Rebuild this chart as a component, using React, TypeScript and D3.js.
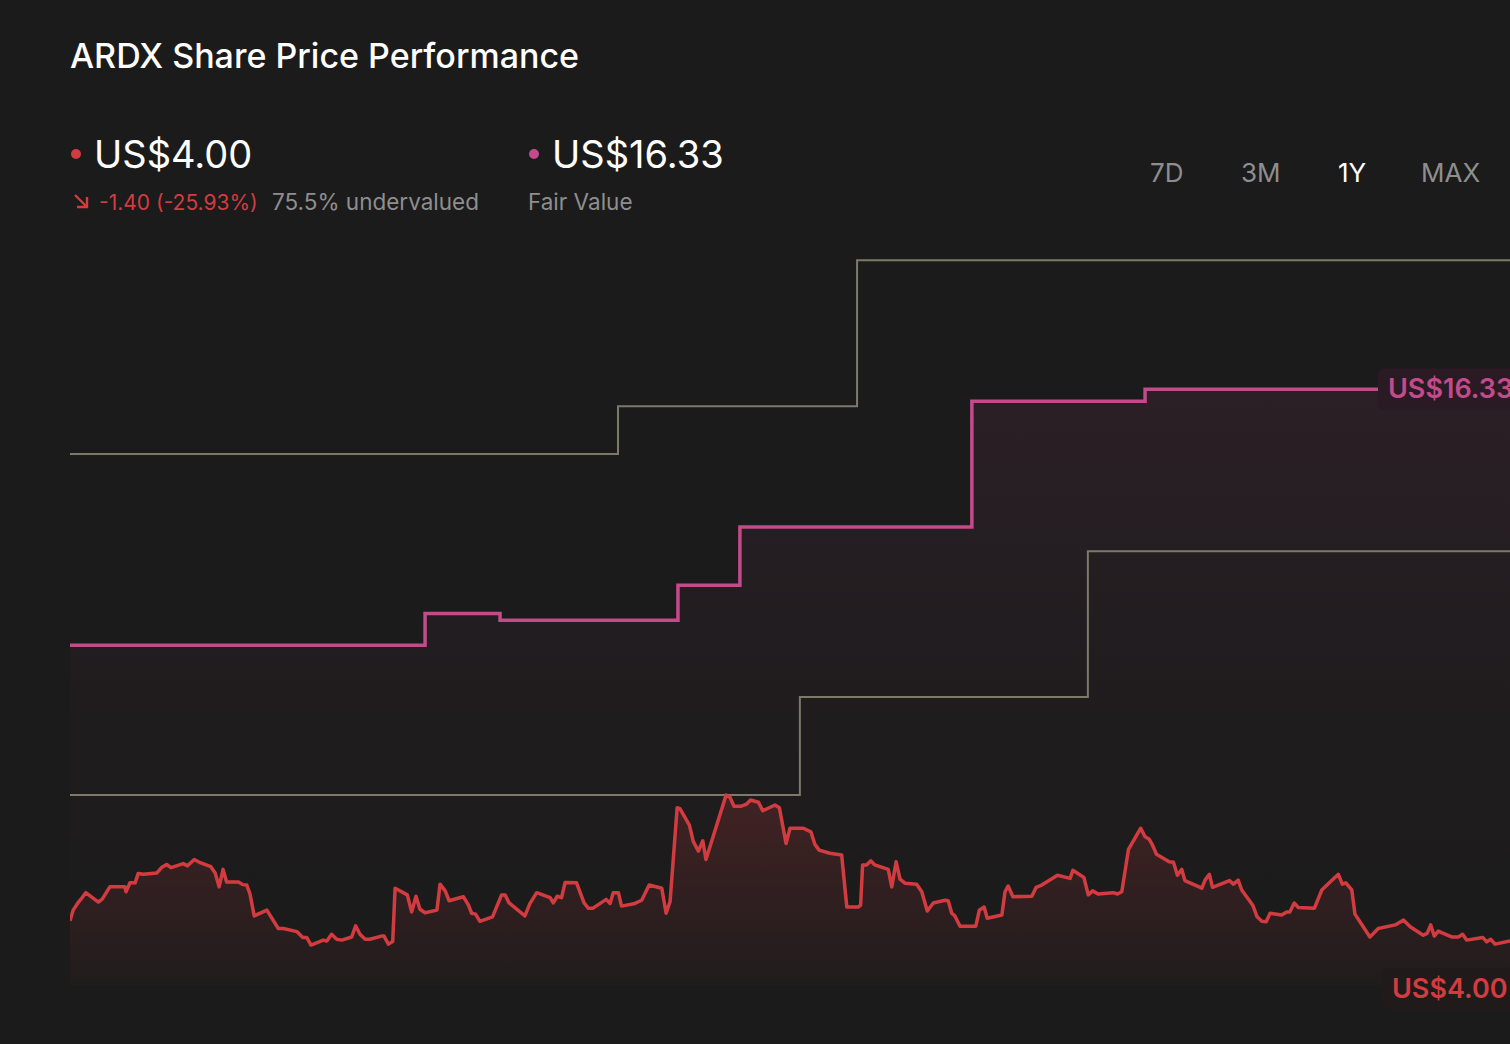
import React, { useEffect } from 'react';
import * as d3 from 'd3';

// 1Y window, days since start of period
const priceDays = [
  0, 0.8, 2.0, 3.0, 4.0, 7.2, 8.2, 10.1, 13.9, 14.2, 15.2, 16.5, 17.3, 18.6, 22.0, 23.2, 24.5, 25.6, 28.7, 29.8,
  31.5, 33.0, 35.7, 36.8, 37.8, 38.8, 39.7, 42.7, 43.8, 44.8, 45.6, 46.7, 49.9, 52.8, 54.1, 57.5, 59.0, 60.0, 61.1, 64.2,
  65.1, 66.3, 67.6, 68.9, 71.4, 72.4, 73.5, 74.8, 76.0, 79.0, 79.6, 80.7, 81.8, 82.4, 85.5, 86.6, 87.7, 88.7, 90.0, 93.0,
  93.8, 95.1, 96.1, 99.7, 101.0, 101.8, 102.8, 103.9, 107.1, 109.4, 110.3, 111.3, 115.3, 116.6, 118.3, 121.7, 122.5, 123.5, 124.6, 125.5,
  128.4, 130.3, 131.4, 132.5, 135.9, 136.9, 137.7, 139.0, 139.8, 143.2, 144.9, 146.8, 150.0, 151.1, 152.1, 153.9, 154.6, 157.0, 158.0, 159.3,
  160.4, 161.2, 166.3, 167.3, 168.3, 170.0, 171.5, 172.5, 174.5, 175.6, 178.7, 179.8, 181.5, 182.5, 185.9, 187.8, 188.8, 189.9, 192.6, 195.6,
  196.9, 199.8, 200.4, 200.9, 201.9, 203.0, 204.0, 207.4, 208.3, 209.4, 210.4, 211.7, 214.6, 215.9, 217.3, 218.8, 221.8, 222.6, 223.5, 224.3,
  225.6, 229.6, 230.5, 231.7, 232.5, 236.2, 237.0, 237.8, 239.0, 243.8, 244.9, 246.3, 250.3, 253.5, 254.2, 257.0, 258.1, 259.2, 260.6, 264.4,
  265.5, 266.6, 268.3, 271.4, 272.5, 273.5, 274.4, 275.4, 278.6, 279.7, 280.7, 281.8, 282.6, 286.9, 287.7, 288.8, 289.6, 293.9, 294.9, 296.1,
  297.0, 299.8, 300.9, 302.1, 303.2, 304.2, 307.1, 308.4, 309.2, 310.3, 311.3, 315.4, 317.3, 319.4, 321.5, 322.5, 323.4, 324.9, 325.7, 329.5,
  331.6, 335.9, 338.0, 339.7, 343.0, 344.0, 344.9, 345.8, 346.8, 350.2, 351.9, 353.0, 354.0, 358.1, 359.1, 360.1, 361.2, 365,
];

const priceValues = [
  4.45, 4.69, 4.85, 4.96, 5.08, 4.87, 4.94, 5.21, 5.21, 5.10, 5.30, 5.30, 5.51, 5.49, 5.52, 5.64, 5.71, 5.64, 5.73, 5.68,
  5.82, 5.75, 5.66, 5.52, 5.21, 5.60, 5.32, 5.32, 5.26, 5.25, 5.06, 4.56, 4.69, 4.28, 4.28, 4.21, 4.08, 4.08, 3.91, 4.02,
  4.00, 4.15, 4.04, 4.02, 4.09, 4.34, 4.15, 4.04, 4.04, 4.11, 4.11, 3.93, 3.99, 5.18, 5.03, 4.65, 5.00, 4.71, 4.63, 4.69,
  5.27, 5.12, 4.90, 4.99, 4.80, 4.62, 4.60, 4.44, 4.54, 5.03, 5.03, 4.85, 4.56, 4.84, 5.08, 4.97, 4.85, 5.00, 4.97, 5.31,
  5.30, 4.85, 4.73, 4.73, 4.93, 4.84, 5.08, 5.08, 4.78, 4.84, 4.91, 5.25, 5.18, 4.62, 4.88, 6.98, 6.96, 6.59, 6.22, 6.01,
  6.24, 5.82, 7.26, 7.21, 7.01, 7.01, 7.06, 7.15, 7.10, 6.91, 7.04, 6.98, 6.18, 6.52, 6.52, 6.44, 6.16, 6.03, 5.96, 5.92,
  4.76, 4.76, 4.80, 5.70, 5.70, 5.79, 5.70, 5.60, 5.21, 5.77, 5.38, 5.29, 5.27, 5.10, 4.67, 4.85, 4.91, 4.90, 4.62, 4.56,
  4.33, 4.33, 4.69, 4.76, 4.51, 4.58, 5.10, 5.23, 4.99, 5.00, 5.20, 5.25, 5.47, 5.40, 5.58, 5.42, 5.03, 5.12, 5.05, 5.08,
  5.05, 5.10, 6.05, 6.52, 6.33, 6.28, 6.14, 5.94, 5.77, 5.76, 5.47, 5.60, 5.35, 5.18, 5.36, 5.49, 5.20, 5.35, 5.27, 5.36,
  5.14, 4.80, 4.54, 4.44, 4.43, 4.62, 4.58, 4.65, 4.65, 4.85, 4.75, 4.73, 5.14, 5.32, 5.49, 5.27, 5.30, 5.14, 4.60, 4.09,
  4.28, 4.36, 4.47, 4.32, 4.13, 4.17, 4.36, 4.11, 4.22, 4.09, 4.09, 4.15, 4.02, 4.08, 3.98, 4.04, 3.93, 4.00,
];

// fair value estimate changes
const fairDays = [0, 90.0, 109.0, 154.1, 169.8, 228.6, 272.5, 365];
const fairValues = [10.61, 11.32, 11.17, 11.95, 13.25, 16.06, 16.33, 16.33];

// analyst price target range
const highDays = [0, 138.9, 199.5, 365];
const highValues = [14.88, 15.95, 19.21, 19.21];
const lowDays = [0, 185.0, 258.0, 365];
const lowValues = [7.26, 9.45, 12.71, 12.71];

const periods = ['7D', '3M', '1Y', 'MAX'];
const activePeriod = '1Y';

const W = 1510;
const H = 1044;
const plotLeft = 70;
const plotBottom = 985;

const BG = '#1b1b1b';
const RED = '#d23c40';
const PINK = '#c34b8b';
const OLIVE = '#7c7a69';
const GREY = '#8e8e8e';
const FONT = 'Inter, "Noto Sans", sans-serif';

type Pt = { d: number; v: number };
const zip = (days: number[], vals: number[]): Pt[] => days.map((d, i) => ({ d, v: vals[i] }));

const App: React.FC = () => {
  useEffect(() => {
    document.body.style.margin = '0';
    document.body.style.background = BG;
  }, []);

  const x = d3.scaleLinear().domain([0, 365]).range([plotLeft, W]);
  const y = d3.scaleLinear().domain([0, 20]).range([1120, 225]);

  const price = zip(priceDays, priceValues);
  const fair = zip(fairDays, fairValues);
  const high = zip(highDays, highValues);
  const low = zip(lowDays, lowValues);

  const line = d3.line<Pt>().x(p => x(p.d)).y(p => y(p.v));
  const step = d3.line<Pt>().x(p => x(p.d)).y(p => y(p.v)).curve(d3.curveStepAfter);
  const priceArea = d3.area<Pt>().x(p => x(p.d)).y0(plotBottom).y1(p => y(p.v));
  const fairArea = d3.area<Pt>().x(p => x(p.d)).y0(plotBottom).y1(p => y(p.v)).curve(d3.curveStepAfter);

  const last = price[price.length - 1];
  const lastFair = fair[fair.length - 1];

  const periodX = [1150, 1241, 1338, 1421];

  return (
    <svg width={W} height={H} style={{ display: 'block', background: BG }}>
      <defs>
        <linearGradient id="priceFill" gradientUnits="userSpaceOnUse" x1="0" x2="0" y1={y(7.3)} y2={plotBottom}>
          <stop offset="0" stopColor={RED} stopOpacity={0.2} />
          <stop offset="1" stopColor={RED} stopOpacity={0.03} />
        </linearGradient>
        <linearGradient id="fairFill" gradientUnits="userSpaceOnUse" x1="0" x2="0" y1={y(16.33)} y2={plotBottom}>
          <stop offset="0" stopColor={PINK} stopOpacity={0.09} />
          <stop offset="0.55" stopColor={PINK} stopOpacity={0.025} />
          <stop offset="1" stopColor={PINK} stopOpacity={0} />
        </linearGradient>
        <clipPath id="plotClip">
          <rect x={plotLeft} y={200} width={W - plotLeft} height={plotBottom - 200} />
        </clipPath>
      </defs>

      {/* header */}
      <text x={70} y={68} fill="#fff" fontFamily={FONT} fontSize={34} fontWeight={500}>
        ARDX Share Price Performance
      </text>

      <circle cx={76} cy={154} r={5} fill={RED} />
      <text x={94} y={168} fill="#fff" fontFamily={FONT} fontSize={38} fontWeight={400}>
        US${last.v.toFixed(2)}
      </text>
      <path d="M75,195 L87,207 M77,207 L87,207 L87,197" stroke={RED} strokeWidth={2.4} fill="none" />
      <text x={99} y={210} fill={RED} fontFamily={FONT} fontSize={21}>
        -1.40 (-25.93%)
      </text>
      <text x={272} y={210} fill={GREY} fontFamily={FONT} fontSize={22.5}>
        75.5% undervalued
      </text>

      <circle cx={534} cy={154} r={5} fill={PINK} />
      <text x={552} y={168} fill="#fff" fontFamily={FONT} fontSize={38} fontWeight={400}>
        US${lastFair.v.toFixed(2)}
      </text>
      <text x={528} y={210} fill={GREY} fontFamily={FONT} fontSize={22.5}>
        Fair Value
      </text>

      {periods.map((p, i) => (
        <text
          key={p}
          x={periodX[i]}
          y={182}
          fill={p === activePeriod ? '#fff' : GREY}
          fontFamily={FONT}
          fontSize={26}
        >
          {p}
        </text>
      ))}

      {/* plot */}
      <g clipPath="url(#plotClip)">
        <path d={fairArea(fair) ?? ''} fill="url(#fairFill)" />
        <path d={priceArea(price) ?? ''} fill="url(#priceFill)" />
        <path d={step(high) ?? ''} fill="none" stroke={OLIVE} strokeWidth={2} />
        <path d={step(low) ?? ''} fill="none" stroke={OLIVE} strokeWidth={2} />
        <path d={step(fair) ?? ''} fill="none" stroke={PINK} strokeWidth={3.5} />
        <path d={line(price) ?? ''} fill="none" stroke={RED} strokeWidth={3.5} strokeLinejoin="round" />
      </g>

      {/* end labels */}
      <rect x={1378} y={y(lastFair.v) - 21} width={150} height={42} rx={6} fill="#2a1a23" />
      <text x={1388} y={y(lastFair.v) + 9} fill={PINK} fontFamily={FONT} fontSize={27} fontWeight={600}>
        US${lastFair.v.toFixed(2)}
      </text>
      <rect x={1382} y={968} width={150} height={42} rx={6} fill="#211a1a" />
      <text x={1392} y={998} fill={RED} fontFamily={FONT} fontSize={27} fontWeight={600}>
        US${last.v.toFixed(2)}
      </text>
    </svg>
  );
};

export default App;
